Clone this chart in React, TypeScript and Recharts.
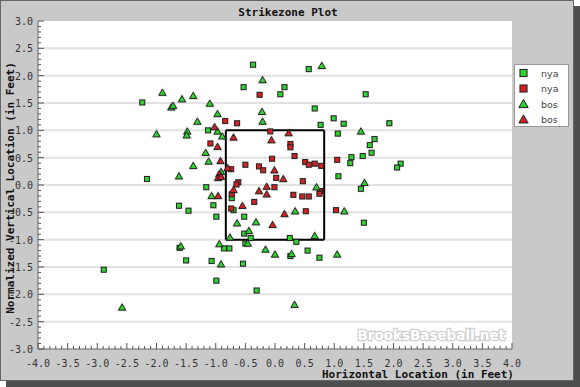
import {
  ScatterChart,
  Scatter,
  XAxis,
  YAxis,
  CartesianGrid,
  ReferenceLine,
} from "recharts";

// pitch locations (feet)
const nyaGreen = [
  { x: -0.37, y: 2.2 }, { x: 0.57, y: 2.12 }, { x: -0.53, y: 1.79 }, { x: 0.16, y: 1.79 },
  { x: 0.09, y: 1.66 }, { x: 1.53, y: 1.66 }, { x: -2.24, y: 1.51 }, { x: 0.67, y: 1.4 },
  { x: 0.99, y: 1.22 }, { x: 1.16, y: 1.12 }, { x: 1.93, y: 1.13 }, { x: 0.77, y: 1.1 },
  { x: -1.13, y: 1.0 }, { x: 1.06, y: 0.94 }, { x: 1.68, y: 0.84 }, { x: 1.6, y: 0.73 },
  { x: 1.63, y: 0.59 }, { x: 1.29, y: 0.51 }, { x: 1.48, y: 0.53 }, { x: 1.27, y: 0.4 },
  { x: 2.12, y: 0.39 }, { x: 2.06, y: 0.32 }, { x: -2.16, y: 0.11 }, { x: 1.07, y: 0.16 },
  { x: -1.16, y: -0.04 }, { x: 1.45, y: -0.07 }, { x: -0.73, y: -0.24 }, { x: -1.62, y: -0.38 },
  { x: -1.04, y: -0.37 }, { x: -1.46, y: -0.47 }, { x: -0.7, y: -0.46 }, { x: -0.99, y: -0.58 },
  { x: -0.52, y: -0.58 }, { x: 1.5, y: -0.69 }, { x: -0.52, y: -0.89 }, { x: -0.41, y: -0.97 },
  { x: 0.25, y: -0.97 }, { x: 0.36, y: -1.04 }, { x: -0.86, y: -1.16 }, { x: -0.77, y: -1.16 },
  { x: -0.5, y: -1.07 }, { x: -1.61, y: -1.15 }, { x: 0.55, y: -1.2 }, { x: 0.26, y: -1.3 },
  { x: 0.75, y: -1.33 }, { x: -1.5, y: -1.38 }, { x: -1.07, y: -1.39 }, { x: -0.54, y: -1.44 },
  { x: -2.89, y: -1.55 }, { x: -0.99, y: -1.75 }, { x: -0.31, y: -1.93 },
];

const nyaRed = [
  { x: -0.26, y: 1.65 }, { x: -0.84, y: 1.17 }, { x: -0.64, y: 1.13 }, { x: -0.08, y: 0.98 },
  { x: -1.09, y: 0.76 }, { x: 0.26, y: 0.75 }, { x: 0.26, y: 0.69 }, { x: -0.05, y: 0.48 },
  { x: 0.33, y: 0.53 }, { x: 1.05, y: 0.46 }, { x: -0.5, y: 0.37 }, { x: -0.27, y: 0.34 },
  { x: -0.2, y: 0.27 }, { x: 0.51, y: 0.42 }, { x: 0.57, y: 0.37 }, { x: 0.67, y: 0.39 },
  { x: 0.78, y: 0.35 }, { x: -0.74, y: 0.29 }, { x: 0.02, y: 0.13 }, { x: 0.47, y: 0.07 },
  { x: -0.62, y: 0.05 }, { x: -0.65, y: 0.01 }, { x: -0.01, y: -0.04 }, { x: 0.76, y: -0.11 },
  { x: 0.75, y: -0.16 }, { x: -0.73, y: -0.17 }, { x: 0.31, y: -0.18 }, { x: 0.46, y: -0.21 },
  { x: 0.57, y: -0.21 }, { x: -0.74, y: -0.43 }, { x: -0.35, y: -0.31 }, { x: 0.52, y: -0.48 },
  { x: 1.03, y: -0.46 },
];

const bosGreen = [
  { x: -0.21, y: 1.92 }, { x: 0.79, y: 2.18 }, { x: -1.9, y: 1.69 }, { x: -1.57, y: 1.57 },
  { x: -1.38, y: 1.63 }, { x: -1.1, y: 1.49 }, { x: -1.75, y: 1.42 }, { x: -1.72, y: 1.45 },
  { x: -0.97, y: 1.3 }, { x: -0.22, y: 1.34 }, { x: -1.31, y: 1.16 }, { x: -0.21, y: 1.16 },
  { x: -0.97, y: 0.98 }, { x: -2.0, y: 0.93 }, { x: -1.48, y: 0.98 }, { x: -1.49, y: 0.91 },
  { x: -0.89, y: 0.89 }, { x: 1.45, y: 0.98 }, { x: -1.17, y: 0.59 }, { x: -1.12, y: 0.43 },
  { x: -1.38, y: 0.35 }, { x: -0.91, y: 0.24 }, { x: -1.62, y: 0.16 }, { x: 1.51, y: 0.04 },
  { x: 0.7, y: -0.04 }, { x: -1.07, y: -0.2 }, { x: 0.34, y: -0.48 }, { x: 1.17, y: -0.48 },
  { x: -0.64, y: -0.7 }, { x: -0.32, y: -0.68 }, { x: -0.44, y: -0.84 }, { x: -0.76, y: -0.96 },
  { x: 0.67, y: -0.93 }, { x: -0.94, y: -1.08 }, { x: -0.46, y: -1.07 }, { x: -1.59, y: -1.12 },
  { x: -0.16, y: -1.18 }, { x: 0.0, y: -1.27 }, { x: 0.28, y: -1.26 }, { x: 1.05, y: -1.27 },
  { x: -0.91, y: -1.45 }, { x: -2.58, y: -2.24 }, { x: 0.33, y: -2.19 },
];

const bosRed = [
  { x: -1.02, y: 1.06 }, { x: -0.7, y: 0.87 }, { x: -0.06, y: 0.82 }, { x: 0.23, y: 0.95 },
  { x: -0.97, y: 0.7 }, { x: -0.92, y: 0.44 }, { x: -0.01, y: 0.27 }, { x: -0.8, y: 0.31 },
  { x: -0.94, y: 0.2 }, { x: -0.96, y: 0.13 }, { x: -0.91, y: 0.15 }, { x: 0.14, y: 0.11 },
  { x: -0.14, y: -0.03 }, { x: -0.7, y: -0.09 }, { x: -0.27, y: -0.11 }, { x: -0.14, y: -0.17 },
  { x: -0.96, y: -0.2 }, { x: -0.55, y: -0.38 }, { x: 0.16, y: -0.53 }, { x: -0.04, y: -0.73 },
];

const xLabels = [-4.0, -3.5, -3.0, -2.5, -2.0, -1.5, -1.0, -0.5, 0.0, 0.5, 1.0, 1.5, 2.0, 2.5, 3.0, 3.5, 4.0];
const yLabels = [-3.0, -2.5, -2.0, -1.5, -1.0, -0.5, 0.0, 0.5, 1.0, 1.5, 2.0, 2.5, 3.0];
const gridLines = [-2.5, -2.0, -1.5, -1.0, -0.5, 0.0, 0.5, 1.0, 1.5, 2.0, 2.5];
const zone = { left: -0.83, right: 0.83, bottom: -1.0, top: 1.0 };

const GREEN = "#2fd22f";
const RED = "#d42121";

const series = [
  { name: "nya", data: nyaGreen, color: GREEN, kind: "square" },
  { name: "nya", data: nyaRed, color: RED, kind: "square" },
  { name: "bos", data: bosGreen, color: GREEN, kind: "triangle" },
  { name: "bos", data: bosRed, color: RED, kind: "triangle" },
];

// strike zone outline as four segments so the grid doesn't cover it
const zoneEdges = [
  [{ x: zone.left, y: zone.top }, { x: zone.right, y: zone.top }],
  [{ x: zone.right, y: zone.top }, { x: zone.right, y: zone.bottom }],
  [{ x: zone.right, y: zone.bottom }, { x: zone.left, y: zone.bottom }],
  [{ x: zone.left, y: zone.bottom }, { x: zone.left, y: zone.top }],
];

// minor ticks every 0.1 between the labelled ones
const withMinor = (labels: number[]) =>
  labels.flatMap((v, i) =>
    i === labels.length - 1 ? [v] : [0, 1, 2, 3, 4].map((k) => Math.round((v + k * 0.1) * 10) / 10)
  );
const isMajor = (v: number) => Math.abs(v * 2 - Math.round(v * 2)) < 1e-6;

const MONO = "'DejaVu Sans Mono', monospace";

function XTick(props: any) {
  const { x, y, payload } = props;
  const major = isMajor(payload.value);
  return (
    <g>
      <line x1={x} x2={x} y1={y} y2={y - (major ? 6 : 3)} stroke="#555" />
      {major && (
        <text x={x} y={y + 18} textAnchor="middle" fontFamily={MONO} fontSize={10} fill="#333">
          {payload.value.toFixed(1)}
        </text>
      )}
    </g>
  );
}

function YTick(props: any) {
  const { x, y, payload } = props;
  const major = isMajor(payload.value);
  return (
    <g>
      <line x1={x} x2={x + (major ? 6 : 3)} y1={y} y2={y} stroke="#555" />
      {major && (
        <text x={x - 5} y={y + 4} textAnchor="end" fontFamily={MONO} fontSize={10} fill="#333">
          {payload.value.toFixed(1)}
        </text>
      )}
    </g>
  );
}

function Marker({ cx, cy, color, kind, big }: any) {
  const s = big ? 3.5 : 2.5;
  if (kind === "square") {
    return (
      <g>
        <rect x={cx - s - 1} y={cy - s - 1} width={2 * s + 2} height={2 * s + 2} fill="#000" opacity={0.1} />
        <rect x={cx - s} y={cy - s} width={2 * s} height={2 * s} fill={color} stroke="#222" strokeWidth={1} />
      </g>
    );
  }
  const t = big ? 4.5 : 3.6;
  const pts = `${cx},${cy - t} ${cx + t},${cy + t * 0.75} ${cx - t},${cy + t * 0.75}`;
  return (
    <g>
      <polygon points={pts} fill="none" stroke="#000" strokeOpacity={0.1} strokeWidth={2.5} />
      <polygon points={pts} fill={color} stroke="#222" strokeWidth={1} />
    </g>
  );
}

export default function App() {
  return (
    <div style={{ position: "absolute", left: 0, top: 0, width: 580, height: 387, background: "#fff" }}>
      <div style={{ position: "absolute", left: 6, top: 6, width: 574, height: 381, background: "#4e4e4e" }} />
      <div
        style={{
          position: "absolute",
          left: 0,
          top: 0,
          width: 574,
          height: 381,
          background: "#c9c9c9",
          boxShadow: "inset 0 0 0 1px #666",
        }}
      >
        <ScatterChart width={574} height={381} margin={{ top: 21, right: 62, bottom: 0, left: 0 }}>
          <CartesianGrid horizontal={false} vertical={false} fill="#fff" />
          <XAxis
            type="number"
            dataKey="x"
            domain={[-4, 4]}
            ticks={withMinor(xLabels)}
            interval={0}
            height={32}
            tickSize={0}
            tickMargin={0}
            tick={<XTick />}
            axisLine={{ stroke: "#666" }}
          />
          <YAxis
            type="number"
            dataKey="y"
            domain={[-3, 3]}
            ticks={withMinor(yLabels)}
            interval={0}
            width={38}
            tickSize={0}
            tickMargin={0}
            tick={<YTick />}
            axisLine={{ stroke: "#666" }}
          />
          {gridLines.map((v) => (
            <ReferenceLine key={v} y={v} stroke="#e2e2e2" strokeWidth={2} />
          ))}
          {zoneEdges.map((seg, i) => (
            <ReferenceLine key={"z" + i} segment={seg} stroke="#000" strokeWidth={2} />
          ))}
          {series.map((s, i) => (
            <Scatter
              key={i}
              name={s.name}
              data={s.data}
              isAnimationActive={false}
              shape={(p: any) => <Marker cx={p.cx} cy={p.cy} color={s.color} kind={s.kind} />}
            />
          ))}
        </ScatterChart>
        <svg width={574} height={381} style={{ position: "absolute", left: 0, top: 0, pointerEvents: "none" }}>
          <text x={288} y={16} textAnchor="middle" fontFamily={MONO} fontWeight="bold" fontSize={11} fill="#111">
            Strikezone Plot
          </text>
          <text x={514} y={378} textAnchor="end" fontFamily={MONO} fontWeight="bold" fontSize={11} fill="#111">
            Horizontal Location (in Feet)
          </text>
          <text
            x={14}
            y={188}
            transform="rotate(-90 14 188)"
            textAnchor="middle"
            fontFamily={MONO}
            fontWeight="bold"
            fontSize={11}
            fill="#111"
          >
            Normalized Vertical Location (in Feet)
          </text>
          <text
            x={505}
            y={340}
            textAnchor="end"
            fontFamily="'DejaVu Sans', sans-serif"
            fontWeight="bold"
            fontSize={13.5}
            fill="#fff"
            stroke="#cfcfcf"
            strokeWidth={2.5}
            paintOrder="stroke"
          >
            BrooksBaseball.net
          </text>
          <rect x={514.5} y={64.5} width={54} height={62} fill="#fff" stroke="#999" />
          {series.map((s, i) => {
            const cy = 73 + i * 15.5;
            return (
              <g key={i}>
                <Marker cx={523.5} cy={cy} color={s.color} kind={s.kind} big />
                <text x={541} y={cy + 3.5} fontFamily="'DejaVu Sans', sans-serif" fontSize={9.5} fill="#444">
                  {s.name}
                </text>
              </g>
            );
          })}
        </svg>
      </div>
    </div>
  );
}
